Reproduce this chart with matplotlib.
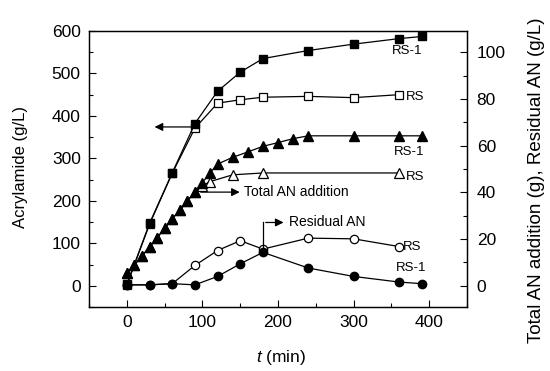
import numpy as np
import matplotlib
matplotlib.use("Agg")
import matplotlib.pyplot as plt
from matplotlib.ticker import MultipleLocator

plt.rcParams['font.family'] = ['Liberation Sans', 'DejaVu Sans']
plt.rcParams['mathtext.fontset'] = 'custom'
plt.rcParams['mathtext.it'] = 'Liberation Sans:italic'
plt.rcParams['mathtext.rm'] = 'Liberation Sans'

# acrylamide (left axis, g/L)
t_am_rs1 = [0, 30, 60, 90, 120, 150, 180, 240, 300, 360, 390]
am_rs1 = [3, 147, 266, 382, 458, 503, 535, 554, 569, 582, 587]
t_am_rs = [0, 30, 60, 90, 120, 150, 180, 240, 300, 360]
am_rs = [2, 145, 265, 371, 430, 438, 444, 446, 443, 450]

# total AN addition (right axis, g)
t_an_rs1 = [0, 10, 20, 30, 40, 50, 60, 70, 80, 90, 100, 110, 120,
            140, 160, 180, 200, 220, 240, 300, 360, 390]
an_rs1 = [5.4, 8.9, 12.8, 16.6, 20.6, 24.6, 28.7, 32.3, 36.3, 40.2, 44.2, 48.3, 52.1,
          55.0, 57.3, 59.7, 61.3, 63.0, 64.2, 64.2, 64.2, 64.2]
t_an_rs = [0, 10, 20, 30, 40, 50, 60, 70, 80, 90, 100, 110, 140, 180, 360]
an_rs = [5.4, 8.9, 12.8, 16.6, 20.6, 24.6, 28.7, 32.3, 36.3, 40.2, 42.8, 44.6, 47.5, 48.3, 48.3]

# residual AN (right axis, g/L)
t_res = [0, 30, 60, 90, 120, 150, 180, 240, 300, 360, 390]
res_rs1 = [0.4, 0.4, 0.9, 0.4, 4.0, 9.4, 14.3, 7.6, 4.0, 1.6, 0.9]
t_res_rs = [0, 30, 60, 90, 120, 150, 180, 240, 300, 360]
res_rs = [0.4, 0.4, 0.9, 8.7, 15.1, 19.3, 15.7, 20.4, 20.1, 16.8]

fig = plt.figure(figsize=(5.5, 3.71), dpi=100)
ax = fig.add_axes([0.162, 0.1725, 0.687, 0.744])
ax2 = ax.twinx()

lw = 0.9
ax.plot(t_am_rs, am_rs, '-s', color='black', mfc='white', mec='black', ms=5.5, lw=lw, mew=0.9)
ax.plot(t_am_rs1, am_rs1, '-s', color='black', mfc='black', ms=5.5, lw=lw)

ax2.plot(t_an_rs, an_rs, '-^', color='black', mfc='white', mec='black', ms=6.5, lw=lw, mew=0.9)
ax2.plot(t_an_rs1, an_rs1, '-^', color='black', mfc='black', ms=6.5, lw=lw)
ax2.plot(t_res_rs, res_rs, '-o', color='black', mfc='white', mec='black', ms=6, lw=lw, mew=0.9)
ax2.plot(t_res, res_rs1, '-o', color='black', mfc='black', ms=6, lw=lw)

ax.set_xlim(-50, 450)
ax.set_ylim(-50, 600)
ax2.set_ylim(-50 / 5.5, 600 / 5.5)

ax.xaxis.set_major_locator(MultipleLocator(100))
ax.xaxis.set_minor_locator(MultipleLocator(50))
ax.yaxis.set_major_locator(MultipleLocator(100))
ax.yaxis.set_minor_locator(MultipleLocator(50))
ax2.yaxis.set_major_locator(MultipleLocator(20))
ax2.yaxis.set_minor_locator(MultipleLocator(10))

ax.tick_params(which='both', direction='in', top=False, right=False, labelsize=12.5)
ax.tick_params(which='major', length=5, width=0.8)
ax.tick_params(which='minor', length=3, width=0.8)
ax.tick_params(axis='x', which='major', pad=6)
ax.tick_params(axis='y', which='major', pad=6)
ax2.tick_params(which='both', direction='in', labelsize=12.5)
ax2.tick_params(which='major', length=5, width=0.8, pad=7)
ax2.tick_params(which='minor', length=3, width=0.8)
for a in (ax, ax2):
    for s in a.spines.values():
        s.set_linewidth(0.9)

ax.set_xlabel('$t$ (min)', fontsize=12.5)
ax.xaxis.set_label_coords(0.508, -0.15)
ax.set_ylabel('Acrylamide (g/L)', fontsize=12)
ax.yaxis.set_label_coords(-0.162, 0.507)
ax2.set_ylabel('Total AN addition (g), Residual AN (g/L)', fontsize=13.5)
ax2.yaxis.set_label_coords(1.161, 0.458)

arr = dict(arrowstyle='-|>', color='black', lw=0.9, mutation_scale=12)
# arrow to left axis
ax.annotate('', xy=(33, 374), xytext=(89, 374), arrowprops=arr)
# total AN addition
ax2.annotate('', xy=(153, 40.1), xytext=(94, 40.1), arrowprops=arr)
ax2.text(155, 40.1, 'Total AN addition', fontsize=10, va='center', ha='left')
# residual AN
ax2.plot([180, 180], [15.5, 27.1], color='black', lw=0.9)
ax2.annotate('', xy=(211, 27.1), xytext=(180, 27.1), arrowprops=arr)
ax2.text(214, 27.1, 'Residual AN', fontsize=10, va='center', ha='left')

ax.text(371, 552, 'RS-1', fontsize=9.5, ha='center', va='center')
ax.text(369, 444, 'RS', fontsize=9.5, ha='left', va='center')
ax2.text(373, 57.1, 'RS-1', fontsize=9.5, ha='center', va='center')
ax2.text(369, 46.5, 'RS', fontsize=9.5, ha='left', va='center')
ax2.text(365, 16.6, 'RS', fontsize=9.5, ha='left', va='center')
ax2.text(376, 7.6, 'RS-1', fontsize=9.5, ha='center', va='center')

fig.savefig('out.png', dpi=100)
